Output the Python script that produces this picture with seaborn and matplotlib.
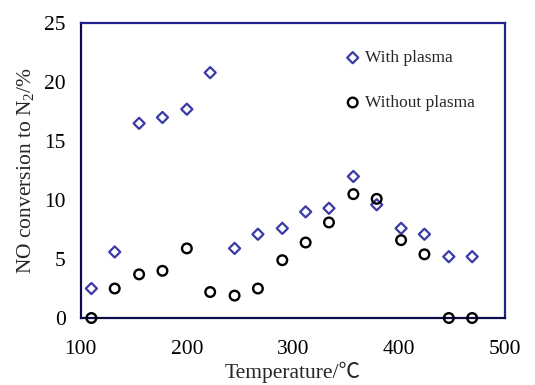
import numpy as np
import pandas as pd
import matplotlib
matplotlib.use("Agg")
import matplotlib.pyplot as plt
import seaborn as sns

temperature = [110, 132, 155, 177, 200, 222, 245, 267, 290, 312, 334, 357, 379, 402, 424, 447, 469]
with_plasma = [2.5, 5.6, 16.5, 17.0, 17.7, 20.8, 5.9, 7.1, 7.6, 9.0, 9.3, 12.0, 9.6, 7.6, 7.1, 5.2, 5.2]
without_plasma = [0.0, 2.5, 3.7, 4.0, 5.9, 2.2, 1.9, 2.5, 4.9, 6.4, 8.1, 10.5, 10.1, 6.6, 5.4, 0.0, 0.0]
series_labels = ["With plasma", "Without plasma"]
x_ticks = [100, 200, 300, 400, 500]
y_ticks = [0, 5, 10, 15, 20, 25]

sns.set_style("white")
plt.rcParams['font.family'] = ['Liberation Serif', 'Noto Sans CJK SC', 'DejaVu Sans']
plt.rcParams['mathtext.fontset'] = 'custom'
plt.rcParams['mathtext.rm'] = 'Liberation Serif'
plt.rcParams['mathtext.it'] = 'Liberation Serif:italic'

df = pd.DataFrame({"T": temperature, "with": with_plasma, "without": without_plasma})

fig = plt.figure(figsize=(5.35, 3.85), dpi=100)
ax = fig.add_axes([0.151, 0.174, 0.793, 0.766])

sns.scatterplot(data=df, x="T", y="with", ax=ax, marker="D", s=32,
                facecolor="none", edgecolor="#3a3aa6", linewidth=1.6,
                label=series_labels[0], clip_on=False, zorder=3)
sns.scatterplot(data=df, x="T", y="without", ax=ax, marker="o", s=48,
                facecolor="none", edgecolor="black", linewidth=1.7,
                label=series_labels[1], clip_on=False, zorder=3)

ax.set_xlim(100, 500)
ax.set_ylim(0, 25)
ax.set_xticks(x_ticks)
ax.set_yticks(y_ticks)
ax.tick_params(axis='both', direction='in', length=5, width=1, labelsize=15.5, colors='black')
ax.tick_params(axis='y', pad=11)
ax.tick_params(axis='x', pad=16)

for side in ['top', 'right']:
    ax.spines[side].set_color('#22228c')
    ax.spines[side].set_linewidth(1.6)
for side in ['left', 'bottom']:
    ax.spines[side].set_color('#0c0c48')
    ax.spines[side].set_linewidth(1.6)

ax.set_xlabel("Temperature/℃", fontsize=15.5, labelpad=2)
ax.set_ylabel("NO conversion to N$_2$/%", fontsize=15.5, labelpad=6)

leg = ax.legend(loc='upper left', bbox_to_anchor=(0.6, 0.932), frameon=False,
                fontsize=12.5, handletextpad=0.1, labelspacing=1.65, borderaxespad=0,
                handlelength=1.2)

fig.savefig("out.png", dpi=100)
